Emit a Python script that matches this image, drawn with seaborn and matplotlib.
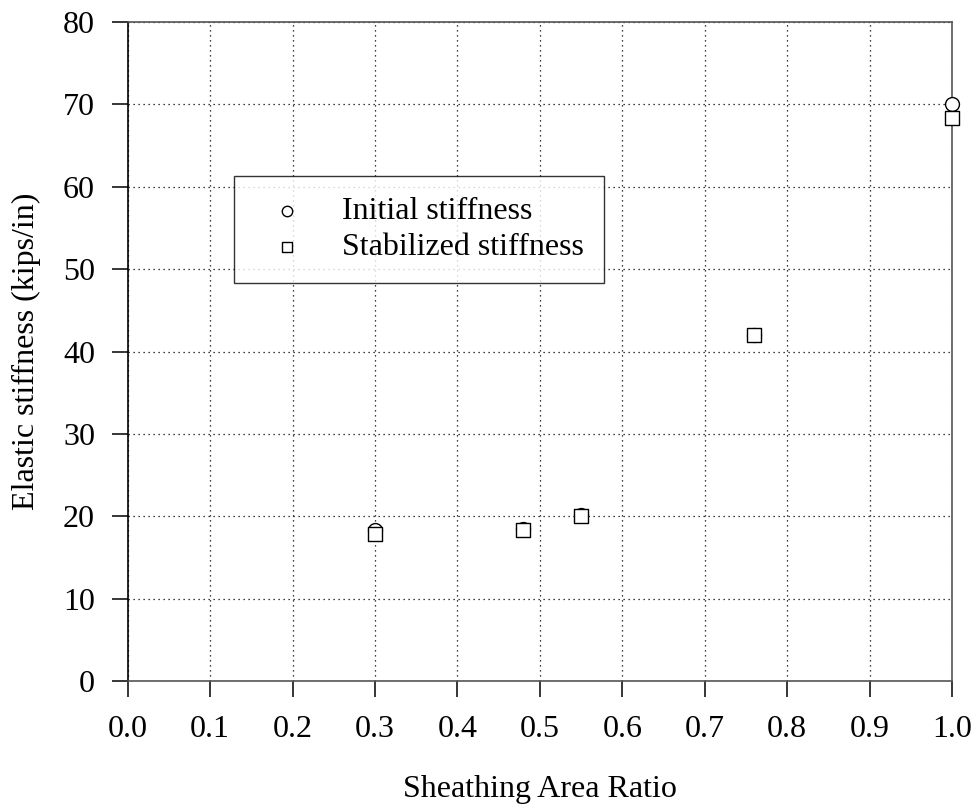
import matplotlib
import matplotlib.pyplot as plt
import pandas as pd
import seaborn as sns

matplotlib.use("Agg")

# values
AREA_RATIO = [0.30, 0.48, 0.55, 0.76, 1.00]
INITIAL_STIFFNESS = [18.3, 18.4, 20.1, 42.0, 70.0]
STABILIZED_STIFFNESS = [17.8, 18.3, 20.0, 42.0, 68.3]
X_TICKS = [0.0, 0.1, 0.2, 0.3, 0.4, 0.5, 0.6, 0.7, 0.8, 0.9, 1.0]
Y_TICKS = [0, 10, 20, 30, 40, 50, 60, 70, 80]

sns.set_style("white")
plt.rcParams["font.family"] = ["Liberation Serif", "DejaVu Serif"]
plt.rcParams["text.color"] = "black"
plt.rcParams["axes.labelcolor"] = "black"
plt.rcParams["xtick.color"] = "black"
plt.rcParams["ytick.color"] = "black"

df = pd.DataFrame({
    "ratio": AREA_RATIO,
    "initial": INITIAL_STIFFNESS,
    "stabilized": STABILIZED_STIFFNESS,
})

fig = plt.figure(figsize=(9.77, 8.05), dpi=100)
ax = fig.add_axes([0.1307, 0.154, 0.8437, 0.8187])

sns.scatterplot(data=df, x="ratio", y="initial", marker="o", s=100, facecolor="white",
                edgecolor="black", linewidth=1.0, ax=ax, label="Initial stiffness",
                zorder=3, clip_on=False)
sns.scatterplot(data=df, x="ratio", y="stabilized", marker="s", s=100, facecolor="white",
                edgecolor="black", linewidth=1.0, ax=ax, label="Stabilized stiffness",
                zorder=4, clip_on=False)

ax.set_xlim(0, 1.0)
ax.set_ylim(0, 80)
ax.set_xticks(X_TICKS)
ax.set_xticklabels([f"{t:.1f}" for t in X_TICKS])
ax.set_yticks(Y_TICKS)
ax.grid(True, linestyle=(0, (1, 3)), color="black", linewidth=0.9)
ax.set_axisbelow(True)

for side in ["left", "right", "top", "bottom"]:
    ax.spines[side].set_visible(True)
    ax.spines[side].set_linewidth(1.2)
ax.spines["left"].set_color("black")
ax.spines["right"].set_color("#555555")
ax.spines["top"].set_color("#555555")
ax.spines["bottom"].set_color("#555555")

ax.tick_params(axis="both", direction="out", length=11.5, width=1.1, labelsize=23,
               left=True, bottom=True, colors="black", labelcolor="black")
ax.tick_params(axis="y", pad=12)
ax.tick_params(axis="x", pad=13)

ax.set_xlabel("Sheathing Area Ratio", fontsize=23, color="black")
ax.xaxis.label.set_va("baseline")
ax.xaxis.set_label_coords(0.5, -0.176)
ax.set_ylabel("Elastic stiffness (kips/in)", fontsize=23, color="black")
ax.yaxis.label.set_va("center")
ax.yaxis.set_label_coords(-0.1234, 0.5)

legend = ax.legend(loc="upper left", bbox_to_anchor=(0.129, 0.7665), borderaxespad=0,
                   fontsize=23, frameon=True, fancybox=False, edgecolor="black",
                   handlelength=2.0, handletextpad=0.72, borderpad=0.65,
                   labelspacing=0.22, markerscale=0.75, labelcolor="black")
legend.get_frame().set_linewidth(1.0)

fig.savefig("out.png", dpi=100)
